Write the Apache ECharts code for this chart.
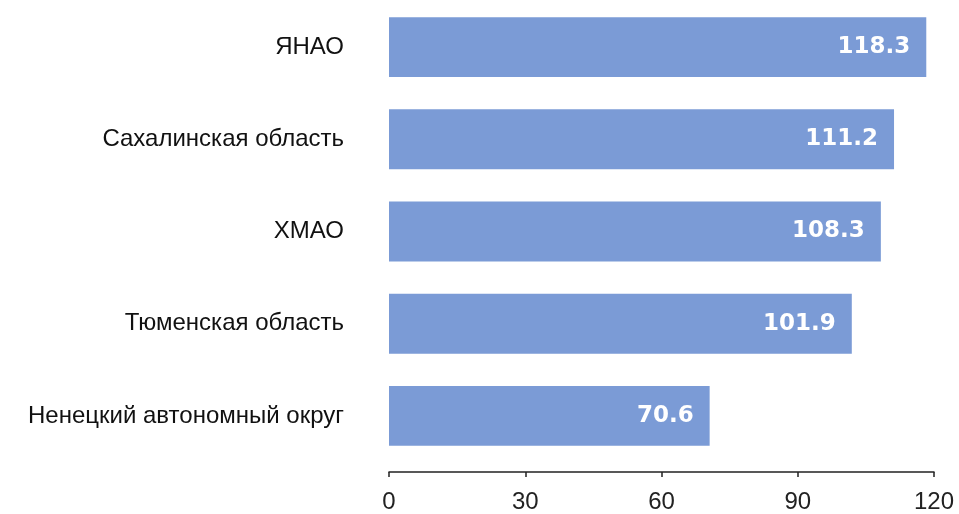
<!DOCTYPE html>
<html>
<head>
<meta charset="utf-8">
<script src="https://cdn.jsdelivr.net/npm/echarts@6/dist/echarts.min.js"></script>
<style>html,body{margin:0;padding:0;background:#fff;}#c{width:959px;height:514px;}</style>
</head>
<body>
<div id="c"></div>
<script>
const categories = ["ЯНАО", "Сахалинская область", "ХМАО", "Тюменская область", "Ненецкий автономный округ"];
const values = [118.3, 111.2, 108.3, 101.9, 70.6];
const xTicks = [0, 30, 60, 90, 120];

const chart = echarts.init(document.getElementById('c'), null, {renderer: 'canvas'});
chart.setOption({
  animation: false,
  backgroundColor: '#ffffff',
  grid: {left: 389, right: 25, top: 1, bottom: 52, containLabel: false},
  xAxis: {
    type: 'value', min: xTicks[0], max: xTicks[xTicks.length - 1], interval: 30,
    offset: 10,
    axisLine: {show: true, lineStyle: {color: '#222', width: 1.5}},
    axisTick: {show: true, length: 5, lineStyle: {color: '#222', width: 1.5}},
    splitLine: {show: false},
    axisLabel: {color: '#222', fontSize: 24, fontFamily: 'Liberation Sans', margin: 18}
  },
  yAxis: {
    type: 'category', data: categories, inverse: true,
    axisLine: {show: false}, axisTick: {show: false},
    axisLabel: {color: '#111', fontSize: 24, fontFamily: 'Liberation Sans', margin: 45}
  },
  series: [{
    type: 'bar', data: values, barCategoryGap: '35%',
    itemStyle: {color: '#7b9bd6'},
    label: {show: true, position: 'insideRight', distance: 16, color: '#fff',
      fontSize: 23, fontWeight: 'bold', fontFamily: 'DejaVu Sans',
      formatter: p => p.value.toFixed(1)}
  }]
});
</script>
</body>
</html>
